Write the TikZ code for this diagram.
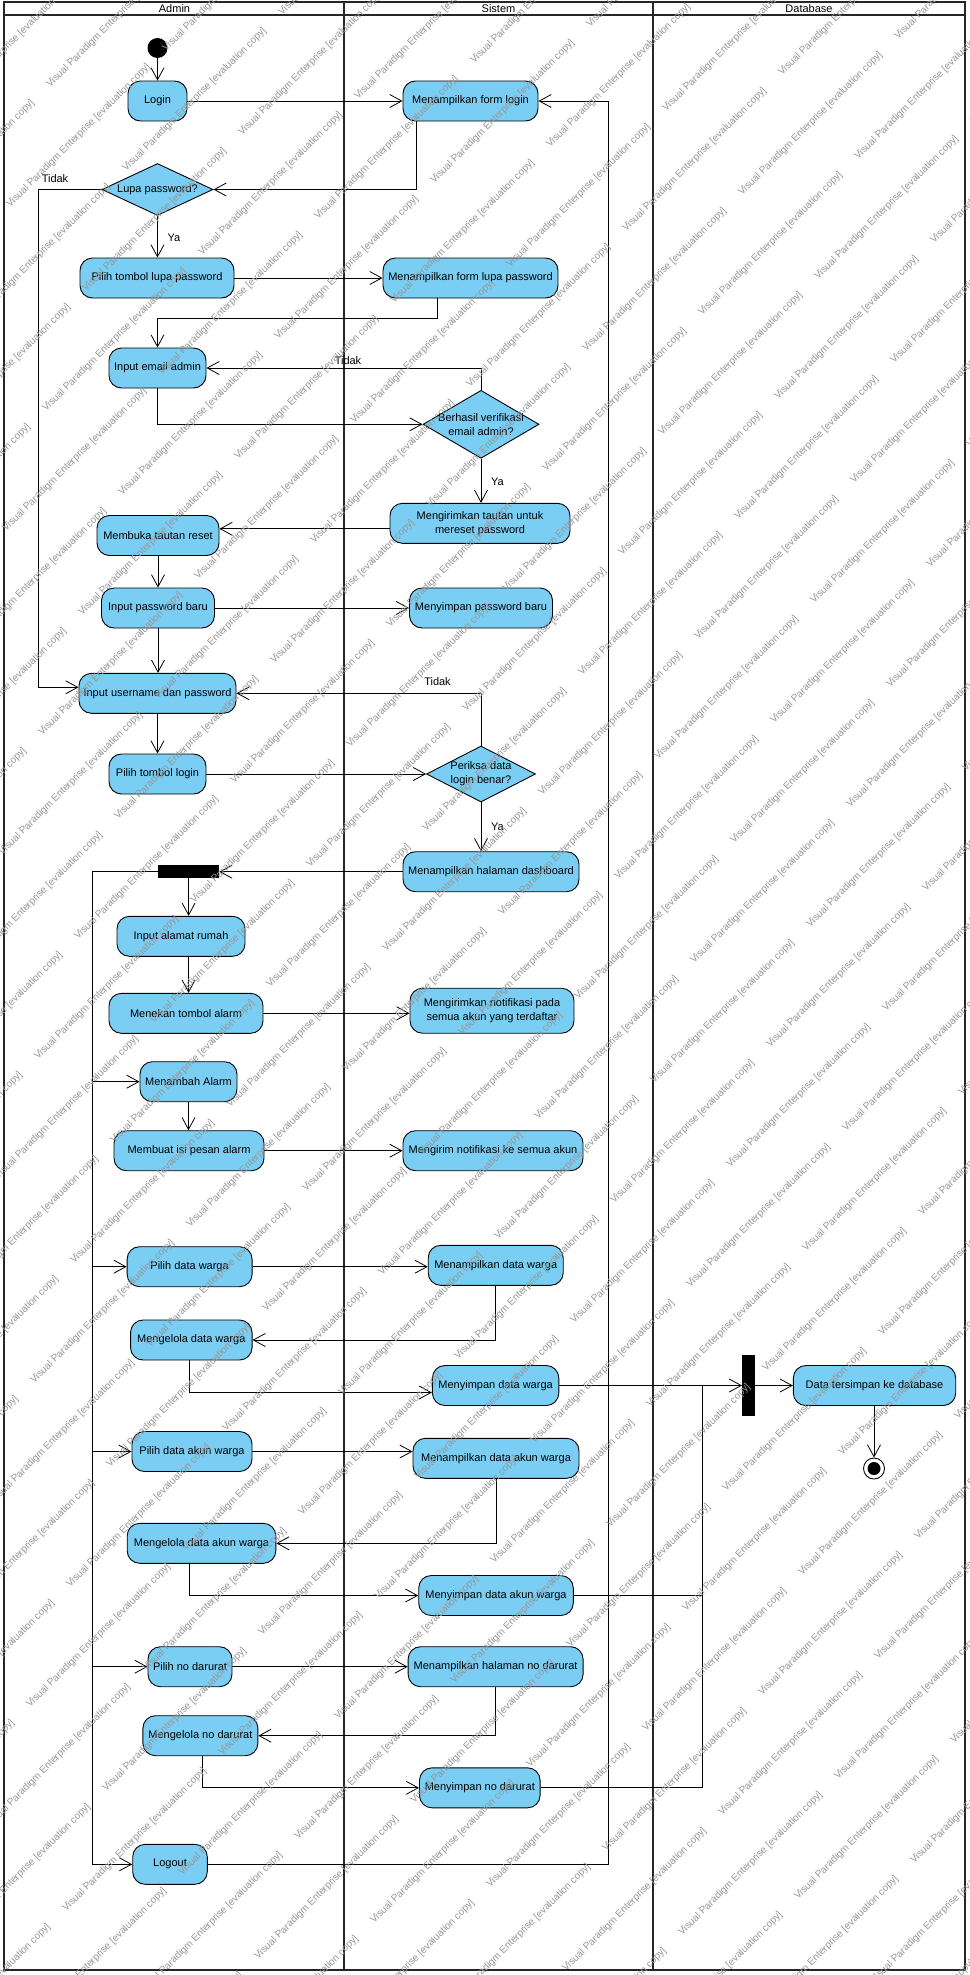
\documentclass[tikz,border=0pt]{standalone}
\usepackage{fontspec}
\setmainfont{Liberation Sans}
\usetikzlibrary{arrows.meta,shapes.geometric,calc}
\definecolor{actfill}{RGB}{122,206,244}
\definecolor{wmgray}{RGB}{150,150,150}
\begin{document}
\begin{tikzpicture}[x=1pt,y=-1pt,
  every node/.style={font=\fontsize{11}{14}\selectfont},
  act/.style={draw=black, fill=actfill, rounded corners=12.5pt, line width=0.9pt,
    minimum height=40pt, inner sep=0pt, align=center},
  decision/.style={draw=black, fill=actfill, diamond, inner sep=0pt, line width=0.9pt},
  syncbar/.style={fill=black, draw=none, inner sep=0pt},
  flow/.style={line width=0.8pt, -{Straight Barb[length=12pt,width=13pt]}},
  plain/.style={line width=0.8pt},
  guard/.style={inner sep=0pt, align=center},
  lane/.style={line width=1.7pt, draw=black!85},
  wm/.style={font=\fontsize{10}{12}\selectfont, text=wmgray, rotate=45,
    anchor=base west, inner sep=0pt},
]
\useasboundingbox (0,0) rectangle (969,1975);
\fill[white] (0,0) rectangle (969,1975);

% swimlanes
\draw[lane] (4,2) rectangle (965,1970);
\draw[lane] (4,15) -- (965,15);
\draw[lane] (344,2) -- (344,1970);
\draw[lane] (653,2) -- (653,1970);
\node (hadmin) at (174.5,8.5) {Admin};
\node (hsistem) at (498.5,8.5) {Sistem};
\node (hdb) at (809,8.5) {Database};

% rails used by the long connectors
\coordinate (tidakrail) at (38.5,0);
\coordinate (forkrail) at (92.3,0);
\coordinate (looprail) at (608,0);
\coordinate (mergerail) at (702.3,0);

% start / end
\node[circle, fill=black, minimum size=20pt, inner sep=0pt] (init) at (157.5,48) {};
\node[circle, draw=black, fill=white, line width=0.9pt, minimum size=21pt, inner sep=0pt] (final) at (874,1468.5) {};
\fill[black] (final.center) circle (6.5);

% Admin lane
\node[act, minimum width=59pt] (login) at (157.5,101) {Login};
\node[decision, minimum width=111pt, minimum height=52pt,
  label={[guard]center:Lupa password?}] (lupa) at (157.5,189.5) {};
\node[act, minimum width=154pt] (pilihlupa) at (157,278) {Pilih tombol lupa password};
\node[act, minimum width=97pt] (email) at (157.5,368) {Input email admin};
\node[act, minimum width=122pt] (buka) at (158,535.5) {Membuka tautan reset};
\node[act, minimum width=113pt] (pwbaru) at (158,608) {Input password baru};
\node[act, minimum width=157pt] (userpass) at (157.5,693.3) {Input username dan password};
\node[act, minimum width=97pt] (pilihlogin) at (157.5,774) {Pilih tombol login};
\node[syncbar, minimum width=61pt, minimum height=12.7pt] (fork) at (188.6,871.4) {};
\node[act, minimum width=128pt] (alamat) at (181,936.3) {Input alamat rumah};
\node[act, minimum width=154pt] (tekan) at (186,1013.3) {Menekan tombol alarm};
\node[act, minimum width=97pt] (tambah) at (188.5,1081.7) {Menambah Alarm};
\node[act, minimum width=150pt] (pesan) at (189,1150.7) {Membuat isi pesan alarm};
\node[act, minimum width=125pt] (pilihwarga) at (189.6,1266.7) {Pilih data warga};
\node[act, minimum width=121.5pt] (kelolawarga) at (191.3,1340) {Mengelola data warga};
\node[act, minimum width=120pt] (pilihakun) at (192,1451.5) {Pilih data akun warga};
\node[act, minimum width=148.6pt] (kelolaakun) at (201.5,1543.3) {Mengelola data akun warga};
\node[act, minimum width=84pt] (pilihdarurat) at (190,1666.7) {Pilih no darurat};
\node[act, minimum width=115pt] (keloladarurat) at (200.4,1735.7) {Mengelola no darurat};
\node[act, minimum width=74.6pt] (logout) at (170,1864.3) {Logout};

% Sistem lane
\node[act, minimum width=135pt] (formlogin) at (470.5,101) {Menampilkan form login};
\node[act, minimum width=175pt] (formlupa) at (470.5,278) {Menampilkan form lupa password};
\node[decision, minimum width=116pt, minimum height=68pt,
  label={[guard]center:Berhasil verifikasi\\email admin?}] (verif) at (481,424.3) {};
\node[act, minimum width=180pt] (kirim) at (480,523.3) {Mengirimkan tautan untuk\\mereset password};
\node[act, minimum width=143pt] (simpanpw) at (481,608) {Menyimpan password baru};
\node[decision, minimum width=109pt, minimum height=56pt,
  label={[guard]center:Periksa data\\login benar?}] (periksa) at (481,774) {};
\node[act, minimum width=176pt] (dashboard) at (491,871.7) {Menampilkan halaman dashboard};
\node[act, minimum width=164pt, minimum height=45pt] (notif1) at (492,1010.7) {Mengirimkan notifikasi pada\\semua akun yang terdaftar};
\node[act, minimum width=180pt] (notif2) at (493,1150.7) {Mengirim notifikasi ke semua akun};
\node[act, minimum width=135pt] (tampilwarga) at (495.7,1265.3) {Menampilkan data warga};
\node[act, minimum width=126.4pt] (simpanwarga) at (495.6,1385.5) {Menyimpan data warga};
\node[act, minimum width=166pt] (tampilakun) at (496,1458.3) {Menampilkan data akun warga};
\node[act, minimum width=154.6pt] (simpanakun) at (496,1595.5) {Menyimpan data akun warga};
\node[act, minimum width=175pt] (tampildarurat) at (495.6,1666.7) {Menampilkan halaman no darurat};
\node[act, minimum width=120.6pt] (simpandarurat) at (479.8,1787.8) {Menyimpan no darurat};

% Database lane
\node[syncbar, minimum width=12.7pt, minimum height=60.7pt] (join) at (748.6,1385.5) {};
\node[act, minimum width=162.4pt] (dbsave) at (874.5,1385.5) {Data tersimpan ke database};

% guard labels
\node[guard] (tidak1) at (55,179) {Tidak};
\node[guard] (ya1) at (174,237.5) {Ya};
\node[guard] (tidak2) at (348,361) {Tidak};
\node[guard] (ya2) at (497.5,482) {Ya};
\node[guard] (tidak3) at (437.5,682) {Tidak};
\node[guard] (ya3) at (497.5,827) {Ya};

% login and password recovery
\draw[flow] (init) -- (login);
\draw[flow] (login) -- (formlogin);
\draw[flow] ([xshift=-54.5pt]formlogin.south) |- (lupa.east);
\draw[flow] (lupa.west) -- (lupa.west -| tidakrail) |- ([yshift=6pt]userpass.west);
\draw[flow] (lupa.south) -- (lupa.south |- pilihlupa.north);
\draw[flow] (pilihlupa) -- (formlupa);
\draw[flow] ([xshift=-33pt]formlupa.south) -- ++(0,20.3) -| (email.north);
\draw[flow] (verif.north) |- (email.east);
\draw[flow] (email.south) |- (verif.west);
\draw[flow] (verif.south) -- (verif.south |- kirim.north);
\draw[flow] ([yshift=-5.5pt]kirim.west) coordinate (k1) -- (k1 -| buka.east);
\draw[flow] (buka) -- (pwbaru);
\draw[flow] (pwbaru) -- (simpanpw);
\draw[flow] (pwbaru.south) -- (pwbaru.south |- userpass.north);
\draw[flow] (periksa.north) |- (userpass.east);
\draw[flow] (userpass) -- (pilihlogin);
\draw[flow] (pilihlogin) -- (periksa);
\draw[flow] (periksa.south) -- (periksa.south |- dashboard.north);
\draw[flow] (dashboard.west) -- (dashboard.west -| fork.east);

% menu branches after the fork
\draw[plain] (fork.west) -- (fork.west -| forkrail) -- (forkrail |- logout.west);
\draw[flow] (forkrail |- tambah.west) -- (tambah.west);
\draw[flow] (forkrail |- pilihwarga.west) -- (pilihwarga.west);
\draw[flow] (forkrail |- pilihakun.west) -- (pilihakun.west);
\draw[flow] (forkrail |- pilihdarurat.west) -- (pilihdarurat.west);
\draw[flow] (forkrail |- logout.west) -- (logout.west);
\draw[flow] (fork.south) -- (fork.south |- alamat.north);
\draw[flow] (fork.south |- alamat.south) -- (fork.south |- tekan.north);
\draw[flow] (tekan.east) -- (tekan.east -| notif1.west);
\draw[flow] (tambah.south) -- (tambah.south |- pesan.north);
\draw[flow] (pesan.east) -- (pesan.east -| notif2.west);

% data warga
\draw[flow] (pilihwarga.east) -- (pilihwarga.east -| tampilwarga.west);
\draw[flow] (tampilwarga.south) |- (kelolawarga.east);
\draw[flow] ([xshift=-1.8pt]kelolawarga.south) |- ([yshift=-7pt]simpanwarga.west);
\draw[flow] (simpanwarga.east) -- (simpanwarga.east -| join.west);

% data akun warga
\draw[flow] (pilihakun.east) -- (pilihakun.east -| tampilakun.west);
\draw[flow] (tampilakun.south) |- (kelolaakun.east);
\draw[flow] ([xshift=-12pt]kelolaakun.south) |- (simpanakun.west);
\draw[plain] (simpanakun.east) -| (mergerail |- simpanwarga.east);

% no darurat
\draw[flow] (pilihdarurat.east) -- (pilihdarurat.east -| tampildarurat.west);
\draw[flow] (tampildarurat.south) |- (keloladarurat.east);
\draw[flow] ([xshift=1.5pt]keloladarurat.south) |- (simpandarurat.west);
\draw[plain] (simpandarurat.east) -| (mergerail |- simpanwarga.east);

% database
\draw[flow] (join.east) -- (join.east -| dbsave.west);
\draw[flow] (dbsave.south -| final.north) -- (final.north);

% logout returns to the login form
\draw[flow] (logout.east) -- (logout.east -| looprail) |- (formlogin.east);

% tiled evaluation watermark
\begin{scope}
\clip (0,0) rectangle (969,1975);
\foreach \j in {-15,...,26} {
  \pgfmathtruncatemacro\imin{floor((-2616+160*\j)/312)}
  \pgfmathtruncatemacro\imax{ceil((618+160*\j)/312)}
  \foreach \i in {\imin,...,\imax} {
    \node[wm] (wm-\i-\j) at ({702+156*\i-40*\j},{316-156*\i+120*\j})
      {Visual Paradigm Enterprise [evaluation copy]};
  }
}
\end{scope}
\end{tikzpicture}
\end{document}
